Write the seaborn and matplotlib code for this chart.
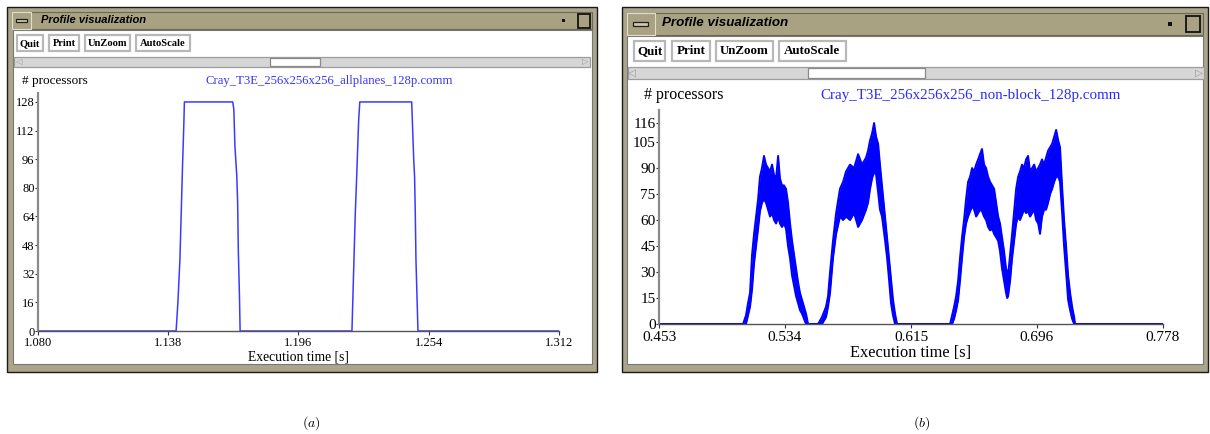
import matplotlib
matplotlib.use("Agg")
import matplotlib.pyplot as plt
import seaborn as sns
from matplotlib.patches import Rectangle

# ---------------- data ----------------
# panel (a): Cray_T3E_256x256x256_allplanes_128p.comm
a_time = [1.0800, 1.1415, 1.1423, 1.1432, 1.1440, 1.1444, 1.1449, 1.1452,
          1.1667, 1.1672, 1.1677, 1.1685, 1.1689, 1.1692, 1.1697, 1.1700,
          1.2198, 1.2207, 1.2213, 1.2219, 1.2224, 1.2228, 1.2233,
          1.2464, 1.2468, 1.2473, 1.2477, 1.2480, 1.2483, 1.2492, 1.3120]
a_procs = [0, 0, 16, 40, 76, 94, 114, 128,
           128, 124, 103, 87, 72, 45, 20, 0,
           0, 40, 66, 86, 104, 118, 128,
           128, 114, 96, 86, 66, 40, 0, 0]
a_xticks = [1.080, 1.138, 1.196, 1.254, 1.312]
a_xticklabels = ["1.080", "1.138", "1.196", "1.254", "1.312"]
a_yticks = [0, 16, 32, 48, 64, 80, 96, 112, 128]

# panel (b): Cray_T3E_256x256x256_non-block_128p.comm  (noisy band: low / high envelope)
b_time_1 = [0.5072, 0.5091, 0.5104, 0.5117, 0.5130, 0.5143, 0.5156, 0.5169, 0.5181, 0.5194,
            0.5207, 0.5220, 0.5233, 0.5246, 0.5259, 0.5272, 0.5285, 0.5298, 0.5310, 0.5323,
            0.5336, 0.5349, 0.5362, 0.5375, 0.5388, 0.5401, 0.5414, 0.5427, 0.5439, 0.5452,
            0.5465, 0.5478, 0.5491]
b_low_1 = [0, 0, 5, 10, 20, 35, 45, 55, 65, 70, 72, 70, 66, 62, 64, 60, 58, 62, 58, 56,
           58, 55, 45, 38, 28, 22, 16, 12, 8, 6, 3, 0, 0]
b_high_1 = [0, 5, 12, 18, 40, 52, 62, 72, 85, 90, 97, 92, 90, 88, 92, 86, 84, 97, 84, 80,
            80, 78, 70, 58, 48, 40, 32, 24, 18, 14, 10, 6, 0]

b_time_2 = [0.5556, 0.5581, 0.5607, 0.5620, 0.5633, 0.5652, 0.5672, 0.5697, 0.5717, 0.5736,
            0.5762, 0.5788, 0.5814, 0.5839, 0.5865, 0.5878, 0.5891, 0.5904, 0.5917, 0.5930,
            0.5943, 0.5955, 0.5968, 0.5988, 0.6001, 0.6014, 0.6026, 0.6039, 0.6052, 0.6065]
b_low_2 = [0, 0, 4, 10, 18, 38, 52, 62, 60, 62, 60, 64, 56, 60, 66, 70, 78, 84, 88, 86,
           76, 66, 62, 48, 38, 25, 12, 5, 0, 0]
b_high_2 = [0, 4, 10, 16, 30, 48, 64, 78, 82, 88, 92, 90, 98, 92, 96, 100, 106, 110, 116, 108,
            104, 92, 80, 62, 50, 38, 26, 14, 6, 0]

b_time_3 = [0.6407, 0.6420, 0.6433, 0.6446, 0.6459, 0.6471, 0.6484, 0.6497, 0.6510, 0.6523,
            0.6536, 0.6549, 0.6562, 0.6575, 0.6588, 0.6600, 0.6613, 0.6626, 0.6639, 0.6652,
            0.6665, 0.6678, 0.6691, 0.6704, 0.6717, 0.6729, 0.6742, 0.6755, 0.6768, 0.6775,
            0.6781, 0.6794, 0.6807, 0.6820, 0.6833, 0.6846, 0.6858, 0.6871, 0.6884, 0.6897,
            0.6910, 0.6923, 0.6936, 0.6949, 0.6962, 0.6975, 0.6987, 0.7000, 0.7013, 0.7026,
            0.7039, 0.7052, 0.7065, 0.7078, 0.7091, 0.7104, 0.7116, 0.7129, 0.7142, 0.7155,
            0.7168, 0.7181, 0.7194, 0.7207, 0.7213]
b_low_3 = [0, 0, 3, 8, 14, 25, 38, 50, 58, 62,
           65, 68, 66, 62, 64, 66, 65, 62, 60, 56,
           54, 55, 52, 50, 48, 42, 32, 25, 18, 15,
           16, 25, 38, 48, 58, 62, 60, 63, 66, 64,
           65, 62, 64, 66, 60, 58, 52, 62, 66, 66,
           70, 75, 78, 82, 85, 85, 82, 65, 45, 30,
           14, 8, 3, 0, 0]
b_high_3 = [0, 5, 10, 16, 25, 38, 50, 60, 72, 82,
            85, 90, 88, 92, 95, 98, 101, 92, 90, 85,
            82, 80, 78, 70, 62, 58, 50, 42, 32, 30,
            28, 40, 52, 65, 78, 85, 88, 92, 90, 95,
            97, 88, 90, 92, 88, 90, 92, 95, 92, 96,
            100, 102, 104, 108, 112, 106, 102, 80, 60, 45,
            28, 18, 10, 4, 0]

b_time = [0.453] + b_time_1 + b_time_2 + b_time_3 + [0.778]
b_low = [0] + b_low_1 + b_low_2 + b_low_3 + [0]
b_high = [0] + b_high_1 + b_high_2 + b_high_3 + [0]
b_xticks = [0.453, 0.53425, 0.6155, 0.69675, 0.778]
b_xticklabels = ["0.453", "0.534", "0.615", "0.696", "0.778"]
b_yticks = [0, 15, 30, 45, 60, 75, 90, 105, 116]

buttons = ["Quit", "Print", "UnZoom", "AutoScale"]
titles = ["Cray_T3E_256x256x256_allplanes_128p.comm", "Cray_T3E_256x256x256_non-block_128p.comm"]
captions = ["$(a)$", "$(b)$"]

# ---------------- figure ----------------
W, H = 1210, 434
plt.rcParams["mathtext.fontset"] = "cm"
fig = plt.figure(figsize=(W / 100, H / 100), dpi=100)
fig.patch.set_facecolor("white")

SERIF = "Liberation Serif"
FRAME = "#aaa58b"
BAR = "#a8a283"


def rect(x0, y0, x1, y1, fc, ec="none", lw=0.0, z=-5):
    fig.add_artist(Rectangle((x0 / W, 1 - y1 / H), (x1 - x0) / W, (y1 - y0) / H,
                             transform=fig.transFigure, facecolor=fc, edgecolor=ec,
                             linewidth=lw, zorder=z))


def ftext(x, y, s, **kw):
    fig.text(x / W, 1 - y / H, s, **kw)


def window(box, bar, content, menu, menubar, dot, maxi, title_xy, title_fs,
           btn_y, btn_x, btn_fs, scroll, thumb, arrow_fs):
    rect(*box, fc=FRAME, ec="#1a1a1a", lw=1.0, z=-6)
    rect(*bar, fc=BAR, ec="#6c6852", lw=0.8)
    rect(*content, fc="white", ec="#777777", lw=0.8)
    rect(*menu, fc=BAR, ec="#e2dece", lw=0.8, z=-4)
    rect(*menubar, fc="#cfc9b0", ec="#202020", lw=0.9, z=-3)
    rect(*dot, fc="#111111", z=-3)
    rect(*maxi, fc="none", ec="#111111", lw=1.3, z=-3)
    ftext(*title_xy, "Profile visualization", fontsize=title_fs, fontweight="bold",
          fontstyle="italic", family="Liberation Sans", va="center", ha="left")
    for (x0, x1), lab in zip(btn_x, buttons):
        rect(x0, btn_y[0], x1, btn_y[1], fc="white", ec="#b8b8b8", lw=1.6, z=-4)
        ftext((x0 + x1) / 2, (btn_y[0] + btn_y[1]) / 2 + 0.5, lab, fontsize=btn_fs,
              fontweight="bold", family=SERIF, ha="center", va="center")
    rect(*scroll, fc="#d6d6d6", ec="#9c9c9c", lw=0.9, z=-4)
    rect(*thumb, fc="white", ec="#8a8a8a", lw=0.9, z=-3)
    ym = (scroll[1] + scroll[3]) / 2
    ftext(scroll[0] + 4, ym, "\u25c1", fontsize=arrow_fs, color="#9a9a9a",
          family="DejaVu Sans", ha="center", va="center")
    ftext(scroll[2] - 5, ym, "\u25b7", fontsize=arrow_fs, color="#9a9a9a",
          family="DejaVu Sans", ha="center", va="center")


# left window
window(box=(7, 7, 597, 372), bar=(12, 12, 592, 29), content=(13, 30, 592, 364),
       menu=(12, 12, 31, 29), menubar=(16, 19, 27, 22), dot=(562, 19, 565, 22),
       maxi=(578, 14, 590, 28), title_xy=(41, 20), title_fs=8.0,
       btn_y=(35, 51), btn_x=[(17, 43), (49, 79), (85, 130), (136, 190)], btn_fs=7.6,
       scroll=(14, 57, 590, 67), thumb=(270, 58, 320, 66), arrow_fs=6)
# right window
window(box=(622, 7, 1208, 372), bar=(627, 13, 1203, 35), content=(627, 36, 1203, 364),
       menu=(627, 13, 655, 35), menubar=(633, 22, 648, 26), dot=(1168, 22, 1172, 26),
       maxi=(1186, 16, 1200, 32), title_xy=(662, 23), title_fs=9.6,
       btn_y=(41, 61), btn_x=[(634, 665), (672, 710), (716, 773), (779, 846)], btn_fs=9.4,
       scroll=(628, 67, 1204, 79), thumb=(808, 68, 925, 78), arrow_fs=7.5)


def style_axes(ax, xticks, xlabels, yticks, xlim, ylim, tick_fs, lab_fs, xpad, labelpad):
    ax.set_facecolor("none")
    for s in ("top", "right"):
        ax.spines[s].set_visible(False)
    ax.spines["left"].set_color("#8a8a8a")
    ax.spines["left"].set_linewidth(1.6)
    ax.spines["bottom"].set_color("#555555")
    ax.spines["bottom"].set_linewidth(1.0)
    ax.set_xlim(*xlim)
    ax.set_ylim(*ylim)
    ax.set_xticks(xticks)
    ax.set_xticklabels(xlabels)
    ax.set_yticks(yticks)
    ax.set_yticklabels([str(v) for v in yticks])
    ax.tick_params(axis="y", direction="out", length=2, width=0.8, pad=0.5,
                   labelsize=tick_fs, color="#333333")
    ax.tick_params(axis="x", direction="out", length=3, width=0.8, pad=xpad,
                   labelsize=tick_fs, color="#333333")
    for lab in ax.get_xticklabels() + ax.get_yticklabels():
        lab.set_family(SERIF)
    ax.set_xlabel("Execution time [s]", fontsize=lab_fs, family=SERIF, labelpad=labelpad)
    ax.set_ylabel("")


# panel (a)
axA = fig.add_axes([38 / W, 1 - 331 / H, (559 - 38) / W, (331 - 93) / H])
sns.lineplot(x=a_time, y=a_procs, ax=axA, color="#3a3aff", linewidth=1.1,
             estimator=None, sort=False)
style_axes(axA, a_xticks, a_xticklabels, a_yticks, (1.080, 1.312), (0, 133),
           tick_fs=9, lab_fs=9.8, xpad=1.5, labelpad=1)
ftext(22, 81, "# processors", fontsize=9.5, family=SERIF, ha="left", va="center")
ftext(205, 81, titles[0], fontsize=9.2, family=SERIF, color="#3535ff", ha="left", va="center")

# panel (b)
axB = fig.add_axes([659 / W, 1 - 324 / H, (1163 - 659) / W, (324 - 110) / H])
axB.fill_between(b_time, b_low, b_high, color="#0000ff", linewidth=0)
sns.lineplot(x=b_time, y=b_high, ax=axB, color="#0000ff", linewidth=1.4,
             estimator=None, sort=False)
sns.lineplot(x=b_time, y=b_low, ax=axB, color="#0000ff", linewidth=1.4,
             estimator=None, sort=False)
style_axes(axB, b_xticks, b_xticklabels, b_yticks, (0.453, 0.778), (0, 123.5),
           tick_fs=11, lab_fs=11.8, xpad=2, labelpad=1)
ftext(644, 95, "# processors", fontsize=11.5, family=SERIF, ha="left", va="center")
ftext(820, 96, titles[1], fontsize=10.8, family=SERIF, color="#2a2aff", ha="left", va="center")

# captions
ftext(311, 423, captions[0], fontsize=10, ha="center", va="center")
ftext(922, 423, captions[1], fontsize=10, ha="center", va="center")

fig.savefig("out.png", dpi=100, facecolor="white")
